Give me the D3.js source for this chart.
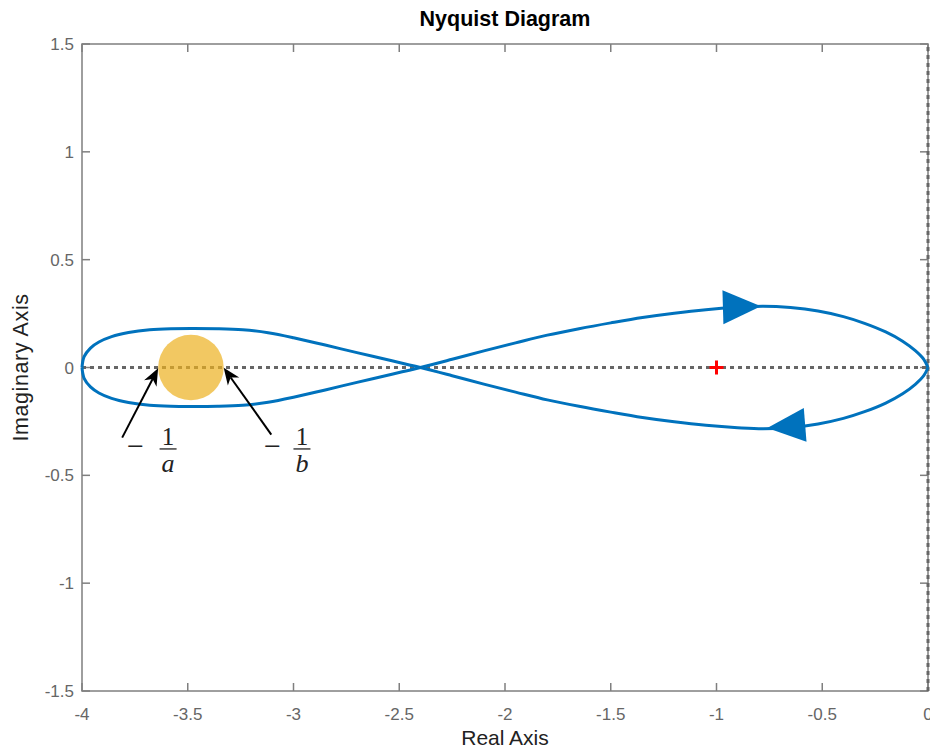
<!DOCTYPE html>
<html>
<head>
<meta charset="utf-8">
<script src="https://cdn.jsdelivr.net/npm/d3@7"></script>
<style>
  body { margin: 0; background: #fff; }
  text { font-family: "Liberation Sans", Arial, Helvetica, sans-serif; }
</style>
</head>
<body>
<svg id="chart"></svg>
<script>
// Nyquist branch for w > 0 (goes from -4 through the lower-left lobe, crosses at -2.4, upper-right lobe, ends at 0)
const posRe = [-4.00, -3.99, -3.96, -3.92, -3.86, -3.78, -3.68, -3.58, -3.48, -3.36, -3.24, -3.12, -3.00,
               -2.85, -2.70, -2.55, -2.40, -2.25, -2.10, -1.95, -1.80, -1.65, -1.50, -1.35, -1.20, -1.05,
               -0.90, -0.78, -0.65, -0.52, -0.40, -0.30, -0.20, -0.12, -0.06, -0.02, 0.00];
const posIm = [0.000, -0.050, -0.090, -0.118, -0.143, -0.162, -0.175, -0.180, -0.181, -0.180, -0.175, -0.161, -0.138,
               -0.104, -0.069, -0.035, 0.000, 0.038, 0.077, 0.114, 0.150, 0.180, 0.207, 0.232, 0.252, 0.268,
               0.279, 0.284, 0.278, 0.262, 0.236, 0.205, 0.165, 0.122, 0.078, 0.038, 0.000];
// branch for w < 0 (mirror image, travelled from 0 back to -4)
const negRe = [0.00, -0.02, -0.06, -0.12, -0.20, -0.30, -0.40, -0.52, -0.65, -0.78, -0.90, -1.05, -1.20,
               -1.35, -1.50, -1.65, -1.80, -1.95, -2.10, -2.25, -2.40, -2.55, -2.70, -2.85, -3.00, -3.12,
               -3.24, -3.36, -3.48, -3.58, -3.68, -3.78, -3.86, -3.92, -3.96, -3.99, -4.00];
const negIm = [0.000, -0.038, -0.078, -0.122, -0.165, -0.205, -0.236, -0.262, -0.278, -0.284, -0.279, -0.268, -0.252,
               -0.232, -0.207, -0.180, -0.150, -0.114, -0.077, -0.038, 0.000, 0.035, 0.069, 0.104, 0.138, 0.161,
               0.175, 0.180, 0.181, 0.180, 0.175, 0.162, 0.143, 0.118, 0.090, 0.050, 0.000];

// direction arrows on the curve: tail -> tip
const dirArrows = [
  { tail: [-0.97, 0.279], tip: [-0.79, 0.284] },
  { tail: [-0.58, -0.266], tip: [-0.76, -0.280] }
];

const xTicks = [-4, -3.5, -3, -2.5, -2, -1.5, -1, -0.5, 0];
const yTicks = [-1.5, -1, -0.5, 0, 0.5, 1, 1.5];

// describing-function interval [-1/a, -1/b]
const minusInvA = -3.64;
const minusInvB = -3.33;
const critical = [-1, 0];

// annotation arrows pointing at -1/a and -1/b; lx = minus sign, fx = fraction centre
const notes = [
  { tail: [-3.81, -0.325], head: [minusInvA, -0.004], den: 'a', lx: -3.787, fx: -3.593, ly: -0.373 },
  { tail: [-3.105, -0.311], head: [minusInvB, -0.001], den: 'b', lx: -3.139, fx: -2.960, ly: -0.373 }
];

const width = 930, height = 749;
const margin = { top: 44, right: 2, bottom: 58, left: 82 };
const iw = width - margin.left - margin.right;
const ih = height - margin.top - margin.bottom;

const svg = d3.select('#chart').attr('width', width).attr('height', height);
const g = svg.append('g').attr('transform', `translate(${margin.left},${margin.top})`);

const x = d3.scaleLinear().domain([-4, 0]).range([0, iw]);
const y = d3.scaleLinear().domain([-1.5, 1.5]).range([ih, 0]);

const axisColor = '#7f7f7f';
const labelColor = '#666';

// box
g.append('rect')
  .attr('width', iw).attr('height', ih)
  .attr('fill', 'none').attr('stroke', axisColor).attr('stroke-width', 1.5);

// ticks (inward, on all four sides)
const tickLen = 8;
xTicks.forEach(t => {
  g.append('line').attr('x1', x(t)).attr('x2', x(t)).attr('y1', ih).attr('y2', ih - tickLen)
    .attr('stroke', axisColor).attr('stroke-width', 1.5);
  g.append('line').attr('x1', x(t)).attr('x2', x(t)).attr('y1', 0).attr('y2', tickLen)
    .attr('stroke', axisColor).attr('stroke-width', 1.5);
  g.append('text').attr('x', x(t)).attr('y', ih + 29)
    .attr('text-anchor', 'middle').attr('fill', labelColor).style('font-size', '17px')
    .text(t);
});
yTicks.forEach(t => {
  g.append('line').attr('x1', 0).attr('x2', tickLen).attr('y1', y(t)).attr('y2', y(t))
    .attr('stroke', axisColor).attr('stroke-width', 1.5);
  g.append('line').attr('x1', iw).attr('x2', iw - tickLen).attr('y1', y(t)).attr('y2', y(t))
    .attr('stroke', axisColor).attr('stroke-width', 1.5);
  g.append('text').attr('x', -8).attr('y', y(t) + 6)
    .attr('text-anchor', 'end').attr('fill', labelColor).style('font-size', '17px')
    .text(t);
});

// dotted zero lines
g.append('line').attr('x1', x(-4)).attr('x2', x(0)).attr('y1', y(0)).attr('y2', y(0))
  .attr('stroke', '#666').attr('stroke-width', 3).attr('stroke-dasharray', '4,4');
g.append('line').attr('x1', x(0)).attr('x2', x(0)).attr('y1', y(-1.5)).attr('y2', y(1.5))
  .attr('stroke', '#666').attr('stroke-width', 3).attr('stroke-dasharray', '4,4');

// shaded disc between -1/a and -1/b
const cx = (minusInvA + minusInvB) / 2;
g.append('circle')
  .attr('cx', x(cx)).attr('cy', y(0))
  .attr('r', x(minusInvB) - x(cx))
  .attr('fill', '#EDB120').attr('fill-opacity', 0.7);

// nyquist curve
const line = d3.line().x(d => x(d[0])).y(d => y(d[1])).curve(d3.curveCatmullRom);
const blue = '#0072BD';
[[posRe, posIm], [negRe, negIm]].forEach(([re, im]) => {
  g.append('path')
    .datum(re.map((r, i) => [r, im[i]]))
    .attr('d', line)
    .attr('fill', 'none').attr('stroke', blue).attr('stroke-width', 3)
    .attr('stroke-linejoin', 'round');
});

// filled direction triangles
dirArrows.forEach(a => {
  const tx = x(a.tip[0]), ty = y(a.tip[1]);
  const bx = x(a.tail[0]), by = y(a.tail[1]);
  const ang = Math.atan2(ty - by, tx - bx);
  const len = 38, half = 17;
  const ux = Math.cos(ang), uy = Math.sin(ang);
  const px = -uy, py = ux;
  const baseX = tx - ux * len, baseY = ty - uy * len;
  const pts = [[tx, ty], [baseX + px * half, baseY + py * half], [baseX - px * half, baseY - py * half]];
  g.append('path').attr('d', 'M' + pts.join('L') + 'Z').attr('fill', blue);
});

// critical point
g.append('path')
  .attr('d', `M${x(critical[0]) - 7},${y(critical[1])}h14M${x(critical[0])},${y(critical[1]) - 7}v14`)
  .attr('stroke', 'red').attr('stroke-width', 3);

// annotation arrows + labels
notes.forEach(n => {
  const hx = x(n.head[0]), hy = y(n.head[1]);
  const tx = x(n.tail[0]), ty = y(n.tail[1]);
  const ang = Math.atan2(hy - ty, hx - tx);
  const ux = Math.cos(ang), uy = Math.sin(ang);
  const px = -uy, py = ux;
  const L = 17, notch = 12, half = 7;
  g.append('line').attr('x1', tx).attr('y1', ty)
    .attr('x2', hx - ux * notch).attr('y2', hy - uy * notch)
    .attr('stroke', '#000').attr('stroke-width', 2);
  const head = [[hx, hy],
    [hx - ux * L + px * half, hy - uy * L + py * half],
    [hx - ux * notch, hy - uy * notch],
    [hx - ux * L - px * half, hy - uy * L - py * half]];
  g.append('path').attr('d', 'M' + head.join('L') + 'Z').attr('fill', '#000');

  const ly = y(n.ly), fx = x(n.fx);
  const serif = '"Liberation Serif", "DejaVu Serif", serif';
  g.append('text').attr('x', x(n.lx)).attr('y', ly + 8)
    .style('font-family', serif).style('font-size', '30px').attr('fill', '#222')
    .text('\u2212');
  g.append('text').attr('x', fx).attr('y', ly - 3).attr('text-anchor', 'middle')
    .style('font-family', serif).style('font-size', '25px').attr('fill', '#222')
    .text('1');
  g.append('line').attr('x1', fx - 8.5).attr('x2', fx + 8.5).attr('y1', ly + 1).attr('y2', ly + 1)
    .attr('stroke', '#222').attr('stroke-width', 1.3);
  g.append('text').attr('x', fx).attr('y', ly + 24).attr('text-anchor', 'middle')
    .style('font-family', serif).style('font-size', '26px').style('font-style', 'italic')
    .attr('fill', '#222').text(n.den);
});

// titles
svg.append('text').attr('x', margin.left + iw / 2).attr('y', 26)
  .attr('text-anchor', 'middle').style('font-size', '21.5px').style('font-weight', 'bold')
  .attr('fill', '#000').text('Nyquist Diagram');
svg.append('text').attr('x', margin.left + iw / 2).attr('y', 745)
  .attr('text-anchor', 'middle').style('font-size', '21px').attr('fill', '#222')
  .text('Real Axis');
svg.append('text')
  .attr('transform', `translate(28,${margin.top + ih / 2}) rotate(-90)`)
  .attr('text-anchor', 'middle').style('font-size', '21.5px').attr('fill', '#222')
  .attr('letter-spacing', '0.6px')
  .text('Imaginary Axis');
</script>
</body>
</html>
